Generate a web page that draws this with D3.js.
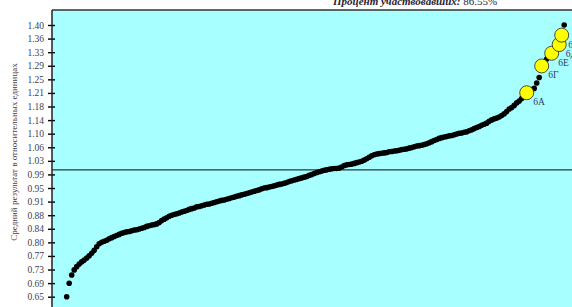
<!DOCTYPE html>
<html>
<head>
<meta charset="utf-8">
<script src="https://cdn.jsdelivr.net/npm/d3@7"></script>
<style>
  html, body { margin: 0; padding: 0; background: #fff; overflow: hidden; }
  svg { display: block; }
</style>
</head>
<body>
<svg id="chart" width="572" height="307"></svg>
<script>
// sorted mean results (relative units), one per class
const results = [
  0.650, 0.687, 0.710, 0.724, 0.733, 0.740, 0.746, 0.751, 0.757, 0.763,
  0.770, 0.778, 0.788, 0.796, 0.800, 0.803, 0.806, 0.810, 0.813, 0.816,
  0.819, 0.822, 0.825, 0.827, 0.829, 0.830, 0.832, 0.834, 0.835, 0.837,
  0.839, 0.841, 0.844, 0.846, 0.848, 0.849, 0.851, 0.855, 0.860, 0.864,
  0.868, 0.872, 0.875, 0.877, 0.879, 0.881, 0.884, 0.886, 0.888, 0.891,
  0.893, 0.895, 0.898, 0.899, 0.901, 0.903, 0.905, 0.906, 0.908, 0.910,
  0.912, 0.914, 0.916, 0.917, 0.919, 0.921, 0.923, 0.925, 0.927, 0.929,
  0.931, 0.933, 0.935, 0.937, 0.939, 0.941, 0.943, 0.945, 0.948, 0.950,
  0.951, 0.953, 0.954, 0.956, 0.958, 0.960, 0.961, 0.963, 0.965, 0.968,
  0.970, 0.972, 0.974, 0.976, 0.978, 0.980, 0.982, 0.985, 0.987, 0.990,
  0.993, 0.995, 0.997, 0.999, 1.000, 1.002, 1.003, 1.004, 1.004, 1.005,
  1.008, 1.012, 1.014, 1.015, 1.016, 1.018, 1.020, 1.022, 1.024, 1.027,
  1.031, 1.035, 1.039, 1.042, 1.044, 1.045, 1.046, 1.047, 1.048, 1.050,
  1.051, 1.052, 1.053, 1.054, 1.056, 1.057, 1.058, 1.060, 1.062, 1.064,
  1.066, 1.067, 1.068, 1.070, 1.072, 1.075, 1.078, 1.081, 1.084, 1.087,
  1.089, 1.091, 1.092, 1.094, 1.095, 1.097, 1.099, 1.101, 1.102, 1.104,
  1.105, 1.108, 1.111, 1.114, 1.117, 1.120, 1.123, 1.126, 1.129, 1.134,
  1.138, 1.141, 1.143, 1.146, 1.150, 1.155, 1.161, 1.168, 1.172, 1.178,
  1.185, 1.190, 1.197, 1.205, 1.213, 1.218, 1.222, 1.225, 1.240, 1.255,
  1.287, 1.297, 1.306, 1.314, 1.322, 1.330, 1.337, 1.346, 1.372, 1.400
];

// highlighted classes of the school: position in the sorted list + name
const highlightIndex = [184, 190, 194, 197, 198];
const highlightNames = ["6А", "6Г", "6Е", "6Д", "6В"];

const yTickLabels = [
  "0.65", "0.69", "0.73", "0.77", "0.80", "0.84", "0.88", "0.91", "0.95", "0.99",
  "1.03", "1.06", "1.10", "1.14", "1.18", "1.21", "1.25", "1.29", "1.33", "1.36", "1.40"
];
const yMin = 0.65;
const yMax = 1.40;
const average = 1.0;

const titleBold = "Процент участвовавших:";
const titleValue = " 86.55%";
const yTitle = "Средний результат в относительных единицах";

const svg = d3.select("#chart");
const plot = { left: 52, top: 10, right: 600, bottom: 330 };

const x = d3.scaleLinear()
  .domain([0, results.length - 1])
  .range([66.7, 564.2]);

const y = d3.scaleLinear()
  .domain([yMin, yMax])
  .range([296.7, 25]);

// background
svg.append("rect")
  .attr("x", plot.left)
  .attr("y", plot.top)
  .attr("width", plot.right - plot.left)
  .attr("height", plot.bottom - plot.top)
  .style("fill", "#a8ffff");

// top frame line
svg.append("line")
  .attr("x1", plot.left).attr("x2", plot.right)
  .attr("y1", plot.top).attr("y2", plot.top)
  .style("stroke", "#333")
  .style("stroke-width", 1.6);

// y axis, ticks cross the axis line (evenly spaced like the original)
const tickVals = yTickLabels.map((d, i) => yMin + i * (yMax - yMin) / (yTickLabels.length - 1));
const yAxis = d3.axisLeft(y)
  .tickValues(tickVals)
  .tickFormat((d, i) => yTickLabels[i])
  .tickSizeInner(4)
  .tickSizeOuter(0)
  .tickPadding(4);

const gy = svg.append("g")
  .attr("transform", "translate(" + plot.left + ",0)")
  .call(yAxis);

gy.select(".domain").remove();
gy.append("line")
  .attr("x1", 0).attr("x2", 0)
  .attr("y1", plot.top).attr("y2", plot.bottom)
  .style("stroke", "#222")
  .style("stroke-width", 1.5);
gy.selectAll(".tick line")
  .attr("x1", 3)
  .style("stroke", "#000")
  .style("stroke-width", 1.4);
gy.selectAll(".tick text")
  .style("font-family", "'Liberation Serif', serif")
  .style("font-size", "9.5px")
  .style("fill", "#3a3f55");

// y title
svg.append("text")
  .attr("transform", "translate(17,152) rotate(-90)")
  .attr("text-anchor", "middle")
  .style("font-family", "'Liberation Serif', serif")
  .style("font-size", "9px")
  .style("fill", "#3a3f55")
  .text(yTitle);

// title (cut by the top of the picture)
const title = svg.append("text")
  .attr("x", 333)
  .attr("y", 5)
  .style("font-family", "'Liberation Serif', serif")
  .style("font-size", "11px")
  .style("fill", "#2a2230");
title.append("tspan")
  .style("font-weight", "bold")
  .style("font-style", "italic")
  .text(titleBold);
title.append("tspan")
  .text(titleValue);

// average line
svg.append("line")
  .attr("x1", plot.left).attr("x2", plot.right)
  .attr("y1", y(average)).attr("y2", y(average))
  .style("stroke", "#263a3a")
  .style("stroke-width", 1.3);

// all classes
svg.append("g").selectAll("circle")
  .data(results)
  .enter().append("circle")
  .attr("cx", (d, i) => x(i))
  .attr("cy", (d) => y(d))
  .attr("r", 2.8)
  .style("fill", "#000");

// highlighted classes
const hl = svg.append("g").selectAll("g")
  .data(highlightIndex.map((idx, k) => ({ idx: idx, name: highlightNames[k] })))
  .enter().append("g")
  .attr("transform", (d) => "translate(" + x(d.idx) + "," + y(results[d.idx]) + ")");

hl.append("circle")
  .attr("r", 7)
  .style("fill", "#ffff00")
  .style("stroke", "#222")
  .style("stroke-width", 0.8);

hl.append("text")
  .attr("x", 6.5)
  .attr("y", 12.5)
  .style("font-family", "'Liberation Serif', serif")
  .style("font-size", "9.5px")
  .style("fill", "#2e3a5c")
  .text((d) => d.name);
</script>
</body>
</html>
